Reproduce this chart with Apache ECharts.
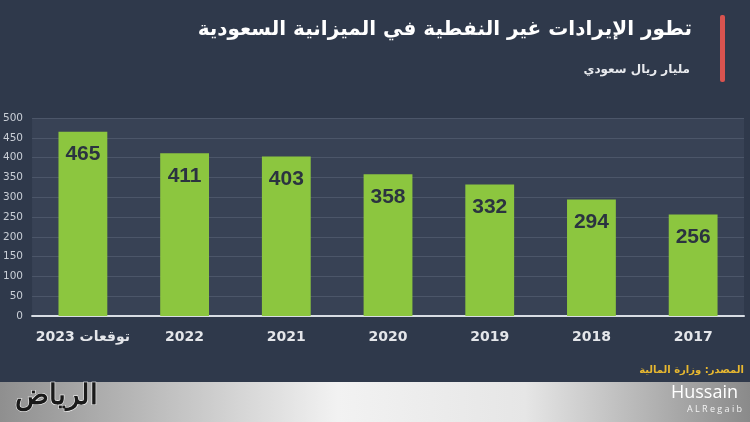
<!DOCTYPE html>
<html>
<head>
<meta charset="utf-8">
<script src="https://cdn.jsdelivr.net/npm/echarts@6/dist/echarts.min.js"></script>
<style>
  html, body { margin: 0; padding: 0; background: #2f394b; }
  #main { width: 750px; height: 422px; }
</style>
</head>
<body>
<div id="main"></div>
<script>
// data
var years = ['2023 توقعات', '2022', '2021', '2020', '2019', '2018', '2017'];
var revenue = [465, 411, 403, 358, 332, 294, 256];
var yTicks = [0, 50, 100, 150, 200, 250, 300, 350, 400, 450, 500];

var titleText = 'تطور الإيرادات غير النفطية في الميزانية السعودية';
var unitText = 'مليار ريال سعودي';
var sourceText = 'المصدر: وزارة المالية';

var chart = echarts.init(document.getElementById('main'));
chart.setOption({
  backgroundColor: '#2f394b',
  animation: false,
  textStyle: { fontFamily: 'DejaVu Sans, sans-serif' },
  grid: {
    left: 30, right: 6, top: 118, bottom: 106,
    show: true,
    backgroundColor: '#384255',
    borderWidth: 0
  },
  xAxis: {
    type: 'category',
    data: years,
    axisTick: { show: false },
    axisLine: { show: true, lineStyle: { color: '#d8dde4', width: 2 } },
    axisLabel: {
      interval: 0,
      color: '#e4e6ea', fontSize: 14, fontWeight: 'bold', margin: 14,
      fontFamily: 'DejaVu Sans, sans-serif'
    }
  },
  yAxis: {
    type: 'value',
    min: yTicks[0],
    max: yTicks[yTicks.length - 1],
    interval: 50,
    axisLine: { show: false },
    axisTick: { show: false },
    axisLabel: { color: '#c9ced6', fontSize: 10.5, margin: 9 },
    splitLine: { lineStyle: { color: '#4c5669', width: 1 } }
  },
  series: [{
    type: 'bar',
    data: revenue,
    barWidth: '48%',
    itemStyle: { color: '#8cc63f' },
    label: {
      show: true,
      position: 'insideTop',
      distance: 12,
      color: '#2b3340',
      fontSize: 21,
      fontWeight: 'bold',
      fontFamily: 'Liberation Sans, Arial, sans-serif'
    }
  }],
  graphic: [
    {
      type: 'text', right: 58, top: 20,
      style: { text: titleText, fill: '#ffffff', font: 'bold 20px "DejaVu Sans", sans-serif' }
    },
    {
      type: 'text', right: 60, top: 64,
      style: { text: unitText, fill: '#e8eaee', font: 'bold 12px "DejaVu Sans", sans-serif' }
    },
    {
      type: 'rect', shape: { x: 720, y: 15, width: 5, height: 67, r: 2 },
      style: { fill: '#d9534f' }
    },
    {
      type: 'text', right: 6, top: 365,
      style: { text: sourceText, fill: '#e8b830', font: 'bold 10px "DejaVu Sans", sans-serif' }
    },
    {
      type: 'rect', shape: { x: 0, y: 382, width: 750, height: 40 },
      style: {
        fill: new echarts.graphic.LinearGradient(0, 0, 1, 0, [
          { offset: 0, color: '#8f8f8f' },
          { offset: 0.45, color: '#f2f2f2' },
          { offset: 0.7, color: '#e6e6e6' },
          { offset: 1, color: '#8a8a8a' }
        ])
      }
    },
    {
      type: 'text', left: 14, top: 382,
      style: {
        text: 'الرياض', fill: '#1a1a1a', stroke: '#ffffff', lineWidth: 1,
        font: 'bold 28px "DejaVu Serif", serif'
      }
    },
    {
      type: 'text', right: 12, top: 384,
      style: { text: 'Hussain', fill: '#ffffff', font: '18px "Open Sans", sans-serif' }
    },
    {
      type: 'text', right: 8, top: 405,
      style: { text: 'A L R e g a i b', fill: '#f4f4f4', font: '9px "Open Sans", sans-serif' }
    }
  ]
});
</script>
</body>
</html>
